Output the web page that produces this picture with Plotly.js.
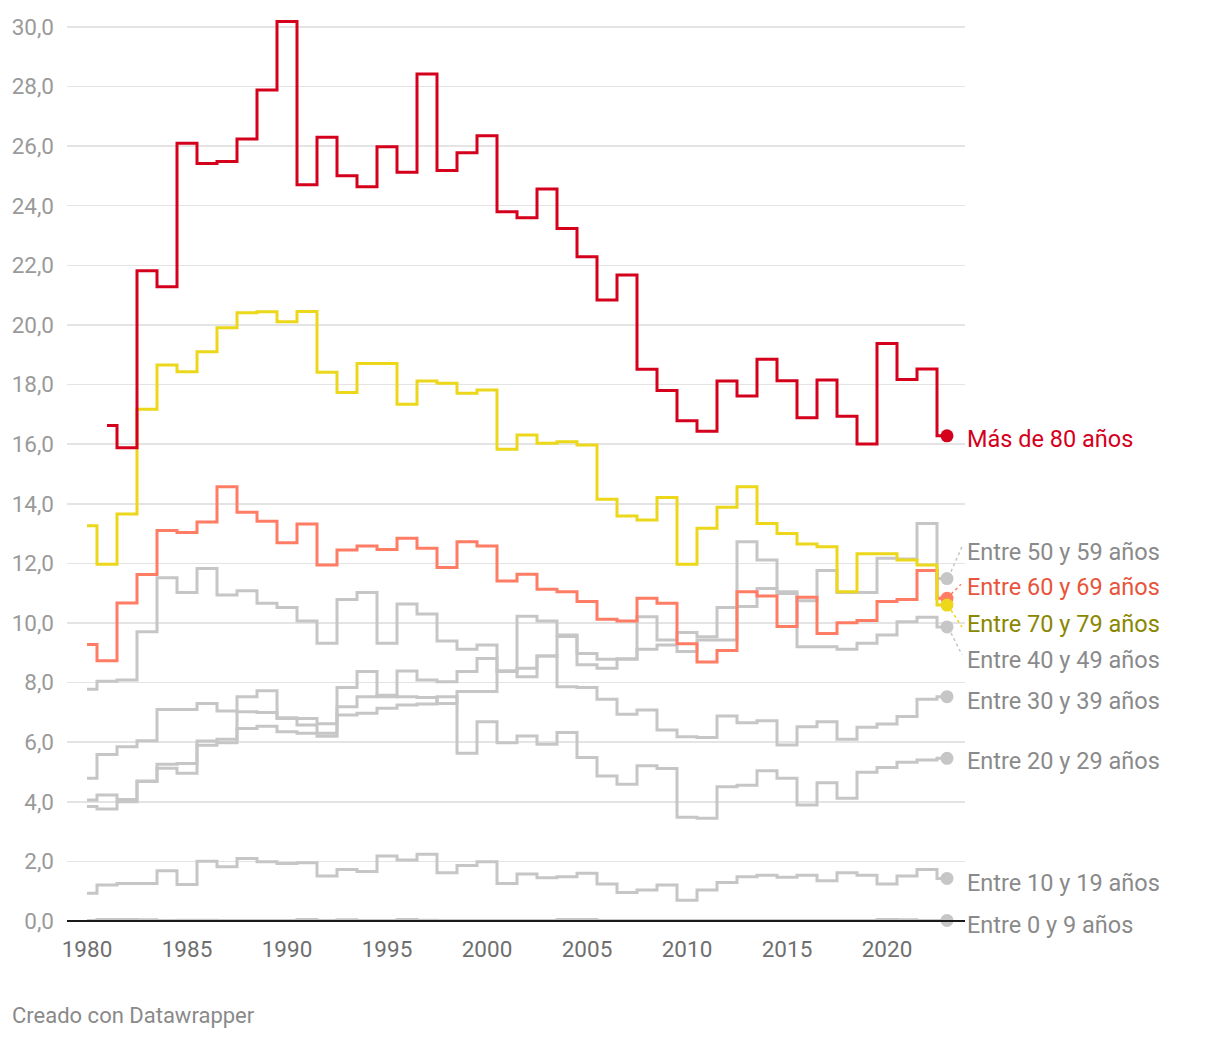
<!DOCTYPE html>
<html><head><meta charset="utf-8">
<script src="https://cdn.plot.ly/plotly-3.0.1.min.js"></script>
<style>body{margin:0;background:#fff}#chart{width:1220px;height:1038px}</style>
</head><body><div id="chart"></div>
<script>
const years = [1980,1981,1982,1983,1984,1985,1986,1987,1988,1989,1990,1991,1992,1993,1994,1995,1996,1997,1998,1999,2000,2001,2002,2003,2004,2005,2006,2007,2008,2009,2010,2011,2012,2013,2014,2015,2016,2017,2018,2019,2020,2021,2022,2023];

const mas80 = [null,16.63,15.88,21.82,21.28,26.10,25.42,25.48,26.24,27.88,30.18,24.70,26.30,25.01,24.64,25.98,25.12,28.42,25.18,25.78,26.35,23.80,23.60,24.56,23.24,22.29,20.84,21.68,18.51,17.80,16.79,16.43,18.12,17.62,18.85,18.13,16.89,18.15,16.94,16.01,19.38,18.17,18.52,16.28];
const e70 = [13.26,11.97,13.66,17.17,18.66,18.43,19.10,19.91,20.41,20.44,20.11,20.45,18.41,17.73,18.71,18.71,17.34,18.12,18.04,17.71,17.82,15.83,16.31,16.03,16.08,15.97,14.15,13.59,13.46,14.21,11.97,13.18,13.88,14.57,13.34,13.00,12.65,12.56,11.05,12.32,12.32,12.11,11.95,10.60];
const e60 = [9.28,8.73,10.67,11.63,13.10,13.04,13.39,14.57,13.72,13.41,12.69,13.32,11.95,12.45,12.58,12.47,12.84,12.51,11.86,12.73,12.58,11.41,11.64,11.13,11.05,10.72,10.13,10.07,10.83,10.66,9.30,8.69,9.08,11.05,10.91,9.88,10.86,9.65,10.01,10.08,10.72,10.79,11.76,10.83];
const e50 = [7.78,8.05,8.09,9.71,11.52,11.02,11.83,10.94,11.08,10.66,10.52,10.07,9.32,10.79,11.02,9.32,10.64,10.30,9.40,9.12,9.26,8.37,10.23,10.07,9.60,8.98,8.78,8.80,10.21,9.43,9.68,9.54,10.52,12.73,12.11,10.99,10.75,11.76,11.02,11.02,12.17,12.15,13.34,11.49];
const e40 = [4.79,5.59,5.85,6.05,7.10,7.10,7.30,7.05,7.02,7.00,6.82,6.80,6.62,7.84,8.37,7.53,8.39,8.09,8.03,8.37,8.81,8.40,8.48,8.89,9.55,8.60,8.48,8.78,9.12,9.26,9.04,9.43,9.43,10.55,11.16,11.05,9.20,9.20,9.12,9.32,9.60,10.04,10.19,9.87];
const e30 = [4.06,4.23,4.08,4.70,5.26,5.29,6.04,5.98,7.53,7.73,6.80,6.58,6.30,7.19,7.53,7.58,7.53,7.50,7.30,7.70,7.70,8.37,8.20,8.89,7.86,7.84,7.44,6.94,7.08,6.41,6.18,6.16,6.88,6.65,6.72,5.91,6.52,6.69,6.10,6.50,6.61,6.86,7.44,7.53];
const e20 = [3.84,3.76,4.00,4.68,5.13,4.96,5.90,6.10,6.46,6.54,6.35,6.30,6.20,6.91,6.97,7.14,7.25,7.28,7.53,5.63,6.69,5.98,6.21,5.93,6.33,5.49,4.87,4.59,5.21,5.12,3.48,3.45,4.51,4.56,5.04,4.79,3.89,4.64,4.12,4.99,5.15,5.33,5.40,5.46];
const e10 = [0.93,1.21,1.26,1.26,1.69,1.23,2.01,1.82,2.10,1.99,1.93,1.96,1.51,1.73,1.66,2.18,2.05,2.24,1.62,1.86,1.99,1.26,1.58,1.45,1.49,1.60,1.24,0.96,1.04,1.21,0.70,1.04,1.29,1.49,1.54,1.47,1.54,1.35,1.62,1.54,1.24,1.51,1.73,1.43];
const e0 = [0.02,0.05,0.05,0.04,0.02,0.03,0.03,0.02,0.02,0.02,0.02,0.05,0.02,0.04,0.02,0.02,0.05,0.03,0.02,0.02,0.02,0.02,0.02,0.02,0.05,0.05,0.02,0.02,0.02,0.02,0.02,0.02,0.02,0.02,0.02,0.02,0.02,0.02,0.02,0.02,0.05,0.04,0.02,0.02];

const labels = {
  mas80: 'Más de 80 años', e50: 'Entre 50 y 59 años', e60: 'Entre 60 y 69 años', e70: 'Entre 70 y 79 años',
  e40: 'Entre 40 y 49 años', e30: 'Entre 30 y 39 años', e20: 'Entre 20 y 29 años', e10: 'Entre 10 y 19 años', e0: 'Entre 0 y 9 años'
};

const RED = '#d5001c', YEL = '#ecd71b', SAL = '#ff7d64', GRY = '#c6c6c6';
const series = [
  {key:'e0', data:e0, color:GRY, label:'#8a8a8a', shift:-5},
  {key:'e10', data:e10, color:GRY, label:'#8a8a8a', shift:-5},
  {key:'e20', data:e20, color:GRY, label:'#8a8a8a', shift:-3},
  {key:'e30', data:e30, color:GRY, label:'#8a8a8a', shift:-4},
  {key:'e40', data:e40, color:GRY, label:'#8a8a8a', shift:-33, conn:[4,-6,15,-28]},
  {key:'e50', data:e50, color:GRY, label:'#8a8a8a', shift:27, conn:[4,7,15,32]},
  {key:'e60', data:e60, color:SAL, label:'#e8553c', shift:11, conn:[4,4,14,14]},
  {key:'e70', data:e70, color:YEL, label:'#8a8700', shift:-19, conn:[4,-5,15,-22]},
  {key:'mas80', data:mas80, color:RED, label:'#d5001c', shift:-3}
];

const traces = [];
const annotations = [];
const shapes = [];
const lastYear = years[years.length-1];
const firstYear = years[0];
series.forEach(s => {
  traces.push({x: years, y: s.data, type:'scatter', mode:'lines', line:{shape:'hvh', color:s.color, width:3}, hoverinfo:'skip', showlegend:false});
});
// baseline drawn above the near-zero series
shapes.push({type:'line', xref:'paper', yref:'y', x0:0, x1:1, y0:0, y1:0, layer:'above', line:{color:'#1a1a1a', width:2}});
series.forEach(s => {
  const lv = s.data[s.data.length-1];
  traces.push({x:[lastYear], y:[lv], type:'scatter', mode:'markers', marker:{color:s.color, size:13}, hoverinfo:'skip', showlegend:false, cliponaxis:false});
  annotations.push({x:lastYear, y:lv, xref:'x', yref:'y', text:labels[s.key], showarrow:false, xanchor:'left', yanchor:'middle', xshift:18, yshift:s.shift, font:{family:'Roboto', size:23.5, color:s.label}});
  if (s.conn) {
    shapes.push({type:'line', xref:'x', yref:'y', xsizemode:'pixel', ysizemode:'pixel', xanchor:lastYear, yanchor:lv,
      x0:s.conn[0], y0:s.conn[1], x1:s.conn[2], y1:s.conn[3], line:{color:s.color, width:1.5, dash:'dot'}});
  }
});
annotations.push({xref:'paper', yref:'paper', x:0, y:0, xanchor:'left', yanchor:'middle', xshift:-57, yshift:-85, text:'Creado con Datawrapper', showarrow:false, font:{family:'Roboto', size:22, color:'#8a8a8a'}});

const layout = {
  width:1220, height:1038,
  margin:{l:67, r:255, t:12, b:108},
  paper_bgcolor:'#fff', plot_bgcolor:'#fff',
  separators:',.',
  font:{family:'Roboto', size:20, color:'#888'},
  xaxis:{range:[1979,2023.9], tickvals:[1980,1985,1990,1995,2000,2005,2010,2015,2020], showgrid:false, zeroline:false, showline:false, ticks:'', tickfont:{family:'Roboto', size:22.5, color:'#6f6f6f'}, ticklabelstandoff:3},
  yaxis:{range:[-0.3,30.5], tickvals:[0,2,4,6,8,10,12,14,16,18,20,22,24,26,28,30], tickformat:'.1f', showgrid:true, gridcolor:'#e4e4e4', gridwidth:1.5, zeroline:false, showline:false, ticks:'', tickfont:{family:'Roboto', size:22.5, color:'#9a9a9a'}, ticklabelstandoff:12},
  annotations:annotations, shapes:shapes, showlegend:false
};
Plotly.newPlot('chart', traces, layout, {displayModeBar:false, staticPlot:true});
</script></body></html>
